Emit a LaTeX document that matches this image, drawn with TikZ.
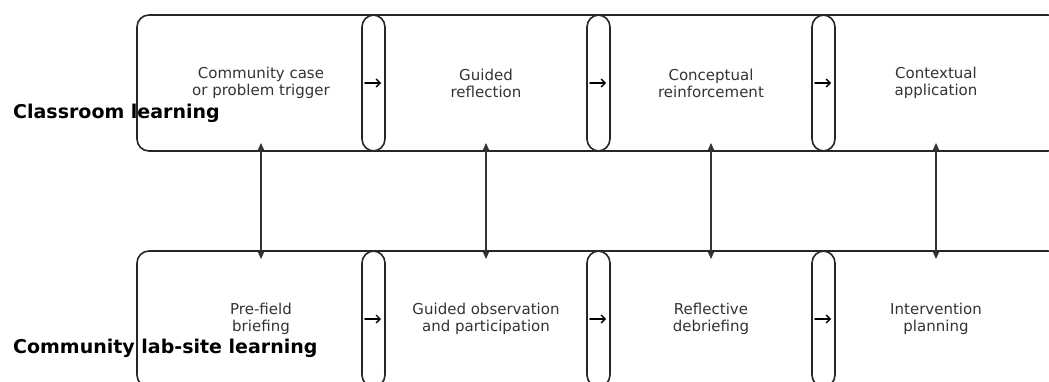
\documentclass[tikz,border=0pt]{standalone}
\usepackage{fontspec}
\setmainfont{DejaVu Sans}
\usetikzlibrary{arrows.meta,positioning}

\tikzset{
	stage/.style={draw=black!85,line width=1.6pt,rounded corners=12pt,minimum width=248pt,minimum height=136pt,inner sep=0pt,outer sep=0pt,align=center,font=\fontsize{15}{17}\selectfont,text=black!80},
	rowlabel/.style={anchor=west,inner sep=0pt,font=\fontsize{19}{21}\selectfont\bfseries},
	flow/.style={-{Straight Barb[length=4pt,width=8pt,line width=1.3pt]},line width=1.6pt},
	link/.style={{Triangle[length=7pt,width=6pt]}-{Triangle[length=7pt,width=6pt]},line width=1.2pt,draw=black!80}
}

\begin{document}
\begin{tikzpicture}[x=1pt,y=-1pt,line cap=round,line join=round]
		\useasboundingbox (0,0) rectangle (1049,381);
		\clip (0,0) rectangle (1049,381);
		% classroom row
		\node[stage] (cl1) at (261,83) {Community case\\or problem trigger};
		\node[stage,right=-23pt of cl1] (cl2) {Guided\\reflection};
		\node[stage,right=-23pt of cl2] (cl3) {Conceptual\\reinforcement};
		\node[stage,right=-23pt of cl3] (cl4) {Contextual\\application};
		% lab-site row
		\node[stage] (cs1) at (261,319) {Pre-field\\briefing};
		\node[stage,right=-23pt of cs1] (cs2) {Guided observation\\and participation};
		\node[stage,right=-23pt of cs2] (cs3) {Reflective\\debriefing};
		\node[stage,right=-23pt of cs3] (cs4) {Intervention\\planning};
		% row titles
		\node[rowlabel] (tcl) at (13,113) {Classroom learning};
		\node[rowlabel] (tcs) at (13,348) {Community lab-site learning};
		% steps within a row
		\foreach \i/\j in {1/2,2/3,3/4}{
			\draw[flow] ([xshift=3pt]cl\j.west) -- ([xshift=-4pt]cl\i.east);
			\draw[flow] ([xshift=3pt]cs\j.west) -- ([xshift=-4pt]cs\i.east);
		}
		% links between rows
		\foreach \i in {1,...,4}
			\draw[link] ([yshift=8pt]cl\i.south) -- ([yshift=-8pt]cs\i.north);
	\end{tikzpicture}
\end{document}
